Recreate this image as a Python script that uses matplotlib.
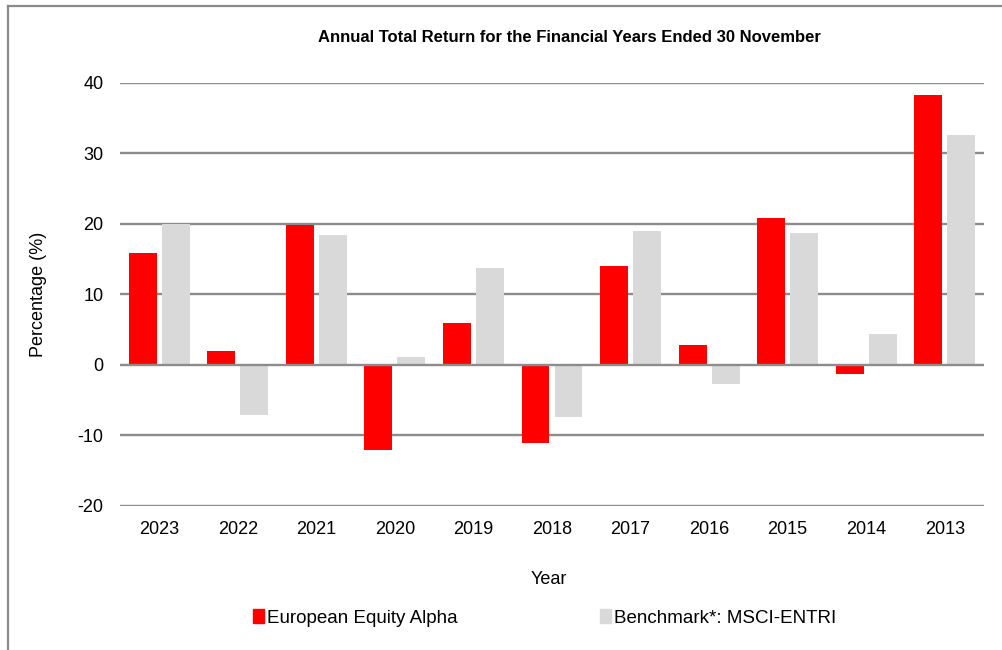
import matplotlib
matplotlib.use("Agg")
import matplotlib.pyplot as plt
from matplotlib.lines import Line2D
from matplotlib.patches import Patch
import numpy as np

years = ["2023", "2022", "2021", "2020", "2019", "2018", "2017", "2016", "2015", "2014", "2013"]
fund = [15.8, 2.0, 19.9, -12.1, 6.0, -11.1, 14.0, 2.8, 20.8, -1.3, 38.3]
bench = [20.0, -7.1, 18.4, 1.1, 13.7, -7.4, 19.05, -2.75, 18.7, 4.4, 32.6]
fund_name = "European Equity Alpha"
bench_name = "Benchmark*: MSCI-ENTRI"
title = "Annual Total Return for the Financial Years Ended 30 November"
yticks = [-20, -10, 0, 10, 20, 30, 40]

plt.rcParams['font.family'] = ['Liberation Sans', 'DejaVu Sans']
plt.rcParams['axes.unicode_minus'] = False

W, H = 1003, 650
fig = plt.figure(figsize=(W / 100, H / 100), dpi=100)
fig.patch.set_facecolor('white')

ax = fig.add_axes([120 / W, 1 - 506 / H, 864 / W, (506 - 82.7) / H])
x = np.arange(len(years))
bw = 0.355
off = 0.21
ax.bar(x - off, fund, width=bw, color='#ff0000', zorder=2, label=fund_name)
ax.bar(x + off, bench, width=bw, color='#d9d9d9', zorder=2, label=bench_name)

ax.set_xlim(-0.5, len(years) - 0.5)
ax.set_ylim(-20, 40)
ax.set_yticks(yticks)
ax.set_xticks(x)
ax.set_xticklabels(years)
for yv in yticks:
    ax.axhline(yv, color='#8c8c8c', lw=1.7, zorder=1 if yv != 0 else 3)
for s in ax.spines.values():
    s.set_visible(False)
ax.tick_params(axis='both', length=0, labelsize=13, colors='#000000')
ax.tick_params(axis='x', pad=11)
ax.tick_params(axis='y', pad=12)

ax.set_ylabel("Percentage (%)", fontsize=13)
ax.yaxis.set_label_coords(-0.084, 0.5)
ax.set_xlabel("Year", fontsize=13)
ax.xaxis.set_label_coords(0.4965, -0.154)

fig.text(569 / W, 1 - 38 / H, title, ha='center', va='center', fontsize=12,
         fontweight='bold', family=['Liberation Sans Narrow', 'Liberation Sans', 'DejaVu Sans'])

handles = [Patch(color='#ff0000', label=fund_name), Patch(color='#d9d9d9', label=bench_name)]
fig.legend(handles=handles, loc='center', bbox_to_anchor=(545 / W, 1 - 618 / H), ncol=2,
           frameon=False, fontsize=13.5, handlelength=0.55, handleheight=0.75,
           handletextpad=0.2, columnspacing=7.6, borderpad=0, borderaxespad=0)

# figure border (left and top)
fig.add_artist(Line2D([8.5 / W, 8.5 / W], [0, 1 - 5.5 / H], transform=fig.transFigure,
                      color='#8a8a8a', lw=1.6))
fig.add_artist(Line2D([8.5 / W, 1], [1 - 5.5 / H, 1 - 5.5 / H], transform=fig.transFigure,
                      color='#8a8a8a', lw=1.6))

fig.savefig("out.png", dpi=100)
